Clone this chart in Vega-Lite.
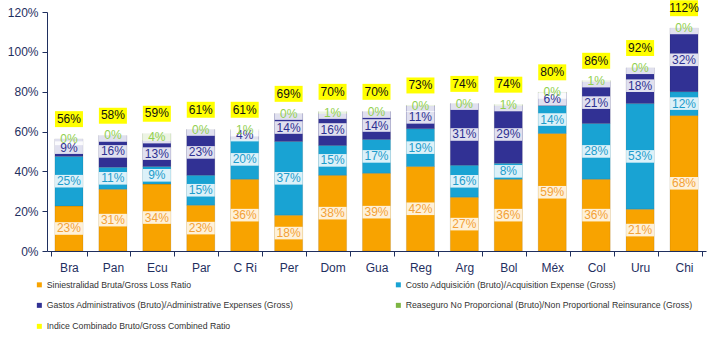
{
  "$schema": "https://vega.github.io/schema/vega-lite/v6.json",
  "width": 659,
  "height": 239,
  "autosize": {"type": "none"},
  "padding": {"left": 47, "top": 12, "right": 17, "bottom": 92},
  "background": "white",
  "config": {
    "view": {"stroke": null},
    "font": "Liberation Sans",
    "axisY": {
      "title": null,
      "grid": false,
      "labelOverlap": false,
      "labelFontSize": 12,
      "labelColor": "#1F2F5F",
      "domainColor": "#1F2F5F",
      "tickColor": "#1F2F5F",
      "tickSize": 5,
      "labelPadding": 4
    }
  },
  "datasets": {
    "segments": [
      {"country": "Bra", "series": "Siniestralidad Bruta/Gross Loss Ratio", "value": 0.226},
      {"country": "Bra", "series": "Costo Adquisición (Bruto)/Acquisition Expense (Gross)", "value": 0.249},
      {"country": "Bra", "series": "Gastos Administrativos (Bruto)/Administrative Expenses (Gross)", "value": 0.088},
      {"country": "Bra", "series": "Reaseguro No Proporcional (Bruto)/Non Proportional Reinsurance (Gross)", "value": 0.0},
      {"country": "Pan", "series": "Siniestralidad Bruta/Gross Loss Ratio", "value": 0.31},
      {"country": "Pan", "series": "Costo Adquisición (Bruto)/Acquisition Expense (Gross)", "value": 0.11},
      {"country": "Pan", "series": "Gastos Administrativos (Bruto)/Administrative Expenses (Gross)", "value": 0.16},
      {"country": "Pan", "series": "Reaseguro No Proporcional (Bruto)/Non Proportional Reinsurance (Gross)", "value": 0.0},
      {"country": "Ecu", "series": "Siniestralidad Bruta/Gross Loss Ratio", "value": 0.336},
      {"country": "Ecu", "series": "Costo Adquisición (Bruto)/Acquisition Expense (Gross)", "value": 0.088},
      {"country": "Ecu", "series": "Gastos Administrativos (Bruto)/Administrative Expenses (Gross)", "value": 0.13},
      {"country": "Ecu", "series": "Reaseguro No Proporcional (Bruto)/Non Proportional Reinsurance (Gross)", "value": 0.036},
      {"country": "Par", "series": "Siniestralidad Bruta/Gross Loss Ratio", "value": 0.23},
      {"country": "Par", "series": "Costo Adquisición (Bruto)/Acquisition Expense (Gross)", "value": 0.15},
      {"country": "Par", "series": "Gastos Administrativos (Bruto)/Administrative Expenses (Gross)", "value": 0.23},
      {"country": "Par", "series": "Reaseguro No Proporcional (Bruto)/Non Proportional Reinsurance (Gross)", "value": 0.0},
      {"country": "C Ri", "series": "Siniestralidad Bruta/Gross Loss Ratio", "value": 0.36},
      {"country": "C Ri", "series": "Costo Adquisición (Bruto)/Acquisition Expense (Gross)", "value": 0.20},
      {"country": "C Ri", "series": "Gastos Administrativos (Bruto)/Administrative Expenses (Gross)", "value": 0.044},
      {"country": "C Ri", "series": "Reaseguro No Proporcional (Bruto)/Non Proportional Reinsurance (Gross)", "value": 0.006},
      {"country": "Per", "series": "Siniestralidad Bruta/Gross Loss Ratio", "value": 0.18},
      {"country": "Per", "series": "Costo Adquisición (Bruto)/Acquisition Expense (Gross)", "value": 0.37},
      {"country": "Per", "series": "Gastos Administrativos (Bruto)/Administrative Expenses (Gross)", "value": 0.14},
      {"country": "Per", "series": "Reaseguro No Proporcional (Bruto)/Non Proportional Reinsurance (Gross)", "value": 0.0},
      {"country": "Dom", "series": "Siniestralidad Bruta/Gross Loss Ratio", "value": 0.38},
      {"country": "Dom", "series": "Costo Adquisición (Bruto)/Acquisition Expense (Gross)", "value": 0.15},
      {"country": "Dom", "series": "Gastos Administrativos (Bruto)/Administrative Expenses (Gross)", "value": 0.16},
      {"country": "Dom", "series": "Reaseguro No Proporcional (Bruto)/Non Proportional Reinsurance (Gross)", "value": 0.01},
      {"country": "Gua", "series": "Siniestralidad Bruta/Gross Loss Ratio", "value": 0.39},
      {"country": "Gua", "series": "Costo Adquisición (Bruto)/Acquisition Expense (Gross)", "value": 0.17},
      {"country": "Gua", "series": "Gastos Administrativos (Bruto)/Administrative Expenses (Gross)", "value": 0.14},
      {"country": "Gua", "series": "Reaseguro No Proporcional (Bruto)/Non Proportional Reinsurance (Gross)", "value": 0.0},
      {"country": "Reg", "series": "Siniestralidad Bruta/Gross Loss Ratio", "value": 0.424},
      {"country": "Reg", "series": "Costo Adquisición (Bruto)/Acquisition Expense (Gross)", "value": 0.19},
      {"country": "Reg", "series": "Gastos Administrativos (Bruto)/Administrative Expenses (Gross)", "value": 0.114},
      {"country": "Reg", "series": "Reaseguro No Proporcional (Bruto)/Non Proportional Reinsurance (Gross)", "value": 0.004},
      {"country": "Arg", "series": "Siniestralidad Bruta/Gross Loss Ratio", "value": 0.27},
      {"country": "Arg", "series": "Costo Adquisición (Bruto)/Acquisition Expense (Gross)", "value": 0.16},
      {"country": "Arg", "series": "Gastos Administrativos (Bruto)/Administrative Expenses (Gross)", "value": 0.31},
      {"country": "Arg", "series": "Reaseguro No Proporcional (Bruto)/Non Proportional Reinsurance (Gross)", "value": 0.0},
      {"country": "Bol", "series": "Siniestralidad Bruta/Gross Loss Ratio", "value": 0.36},
      {"country": "Bol", "series": "Costo Adquisición (Bruto)/Acquisition Expense (Gross)", "value": 0.08},
      {"country": "Bol", "series": "Gastos Administrativos (Bruto)/Administrative Expenses (Gross)", "value": 0.29},
      {"country": "Bol", "series": "Reaseguro No Proporcional (Bruto)/Non Proportional Reinsurance (Gross)", "value": 0.006},
      {"country": "Méx", "series": "Siniestralidad Bruta/Gross Loss Ratio", "value": 0.59},
      {"country": "Méx", "series": "Costo Adquisición (Bruto)/Acquisition Expense (Gross)", "value": 0.14},
      {"country": "Méx", "series": "Gastos Administrativos (Bruto)/Administrative Expenses (Gross)", "value": 0.064},
      {"country": "Méx", "series": "Reaseguro No Proporcional (Bruto)/Non Proportional Reinsurance (Gross)", "value": 0.004},
      {"country": "Col", "series": "Siniestralidad Bruta/Gross Loss Ratio", "value": 0.36},
      {"country": "Col", "series": "Costo Adquisición (Bruto)/Acquisition Expense (Gross)", "value": 0.28},
      {"country": "Col", "series": "Gastos Administrativos (Bruto)/Administrative Expenses (Gross)", "value": 0.21},
      {"country": "Col", "series": "Reaseguro No Proporcional (Bruto)/Non Proportional Reinsurance (Gross)", "value": 0.006},
      {"country": "Uru", "series": "Siniestralidad Bruta/Gross Loss Ratio", "value": 0.21},
      {"country": "Uru", "series": "Costo Adquisición (Bruto)/Acquisition Expense (Gross)", "value": 0.53},
      {"country": "Uru", "series": "Gastos Administrativos (Bruto)/Administrative Expenses (Gross)", "value": 0.18},
      {"country": "Uru", "series": "Reaseguro No Proporcional (Bruto)/Non Proportional Reinsurance (Gross)", "value": 0.0},
      {"country": "Chi", "series": "Siniestralidad Bruta/Gross Loss Ratio", "value": 0.68},
      {"country": "Chi", "series": "Costo Adquisición (Bruto)/Acquisition Expense (Gross)", "value": 0.12},
      {"country": "Chi", "series": "Gastos Administrativos (Bruto)/Administrative Expenses (Gross)", "value": 0.32},
      {"country": "Chi", "series": "Reaseguro No Proporcional (Bruto)/Non Proportional Reinsurance (Gross)", "value": 0.0}
    ],
    "totals": [
      {"country": "Bra", "total": 0.563},
      {"country": "Pan", "total": 0.58},
      {"country": "Ecu", "total": 0.59},
      {"country": "Par", "total": 0.61},
      {"country": "C Ri", "total": 0.61},
      {"country": "Per", "total": 0.69},
      {"country": "Dom", "total": 0.70},
      {"country": "Gua", "total": 0.70},
      {"country": "Reg", "total": 0.732},
      {"country": "Arg", "total": 0.74},
      {"country": "Bol", "total": 0.736},
      {"country": "Méx", "total": 0.798},
      {"country": "Col", "total": 0.856},
      {"country": "Uru", "total": 0.92},
      {"country": "Chi", "total": 1.12}
    ]
  },
  "encoding": {
    "x": {
      "field": "country",
      "type": "nominal",
      "scale": {
        "domain": ["Bra", "Pan", "Ecu", "Par", "C Ri", "Per", "Dom", "Gua", "Reg", "Arg", "Bol", "Méx", "Col", "Uru", "Chi"],
        "paddingInner": 0.2,
        "paddingOuter": 0.1
      },
      "axis": {
        "title": null,
        "labelAngle": 0,
        "labelFontSize": 12,
        "labelColor": "#1F2F5F",
        "labelPadding": 6,
        "domainColor": "#1F2F5F",
        "tickColor": "#1F2F5F",
        "tickSize": 5,
        "tickBand": "extent"
      }
    }
  },
  "layer": [
    {
      "data": {"name": "segments"},
      "transform": [
        {"calculate": "indexof(['Siniestralidad Bruta/Gross Loss Ratio', 'Costo Adquisición (Bruto)/Acquisition Expense (Gross)', 'Gastos Administrativos (Bruto)/Administrative Expenses (Gross)', 'Reaseguro No Proporcional (Bruto)/Non Proportional Reinsurance (Gross)'], datum.series)", "as": "k"},
        {"stack": "value", "groupby": ["country"], "sort": [{"field": "k", "order": "ascending"}], "as": ["v0", "v1"]},
        {"calculate": "(datum.v0 + datum.v1) / 2", "as": "mid"}
      ],
      "layer": [
        {
          "mark": {"type": "bar", "width": {"band": 0.8}, "stroke": "#00000033", "strokeWidth": 0.5},
          "encoding": {
            "y": {
              "field": "v0",
              "type": "quantitative",
              "scale": {"domain": [0, 1.2], "nice": false},
              "axis": {"format": ".0%", "values": [0, 0.2, 0.4, 0.6, 0.8, 1.0, 1.2]}
            },
            "y2": {"field": "v1"},
            "color": {
              "field": "series",
              "type": "nominal",
              "scale": {
                "domain": [
                  "Siniestralidad Bruta/Gross Loss Ratio",
                  "Costo Adquisición (Bruto)/Acquisition Expense (Gross)",
                  "Gastos Administrativos (Bruto)/Administrative Expenses (Gross)",
                  "Reaseguro No Proporcional (Bruto)/Non Proportional Reinsurance (Gross)",
                  "Indice Combinado Bruto/Gross Combined Ratio"
                ],
                "range": ["#F8A300", "#19A3D3", "#313194", "#7DB543", "#FFFF00"]
              },
              "legend": {
                "orient": "none",
                "legendX": -12,
                "legendY": 268,
                "direction": "horizontal",
                "columns": 2,
                "columnPadding": 100,
                "rowPadding": 11,
                "symbolType": "square",
                "symbolSize": 25,
                "symbolStrokeWidth": 0,
                "labelFontSize": 8.7,
                "labelOffset": 3,
                "labelLimit": 400,
                "labelColor": "#333333",
                "title": null
              }
            }
          }
        },
        {
          "mark": {"type": "point", "shape": "M-1,-0.45H1V0.45H-1Z", "filled": true, "fill": "white", "opacity": 0.85, "size": 784},
          "encoding": {
            "y": {"field": "mid", "type": "quantitative", "axis": {"format": ".0%", "values": [0, 0.2, 0.4, 0.6, 0.8, 1.0, 1.2]}}
          }
        },
        {
          "mark": {"type": "text", "fontSize": 12, "baseline": "middle", "align": "center"},
          "encoding": {
            "y": {"field": "mid", "type": "quantitative", "axis": {"format": ".0%", "values": [0, 0.2, 0.4, 0.6, 0.8, 1.0, 1.2]}},
            "text": {"field": "value", "type": "quantitative", "format": ".0%"},
            "color": {
              "condition": [
                {"test": "datum.series === 'Siniestralidad Bruta/Gross Loss Ratio'", "value": "#F3A137"},
                {"test": "datum.series === 'Costo Adquisición (Bruto)/Acquisition Expense (Gross)'", "value": "#1E9CCB"},
                {"test": "datum.series === 'Gastos Administrativos (Bruto)/Administrative Expenses (Gross)'", "value": "#2E3192"}
              ],
              "value": "#92D050"
            }
          }
        }
      ]
    },
    {
      "data": {"name": "totals"},
      "layer": [
        {
          "mark": {"type": "point", "shape": "M-1,-1.98H1V-0.84H-1Z", "filled": true, "opacity": 1, "size": 784},
          "encoding": {
            "y": {"field": "total", "type": "quantitative", "axis": {"format": ".0%", "values": [0, 0.2, 0.4, 0.6, 0.8, 1.0, 1.2]}},
            "color": {"datum": "Indice Combinado Bruto/Gross Combined Ratio", "type": "nominal"}
          }
        },
        {
          "mark": {"type": "text", "fontSize": 12, "baseline": "middle", "align": "center", "dy": -20, "color": "#111111"},
          "encoding": {
            "y": {"field": "total", "type": "quantitative", "axis": {"format": ".0%", "values": [0, 0.2, 0.4, 0.6, 0.8, 1.0, 1.2]}},
            "text": {"field": "total", "type": "quantitative", "format": ".0%"}
          }
        }
      ]
    }
  ]
}
